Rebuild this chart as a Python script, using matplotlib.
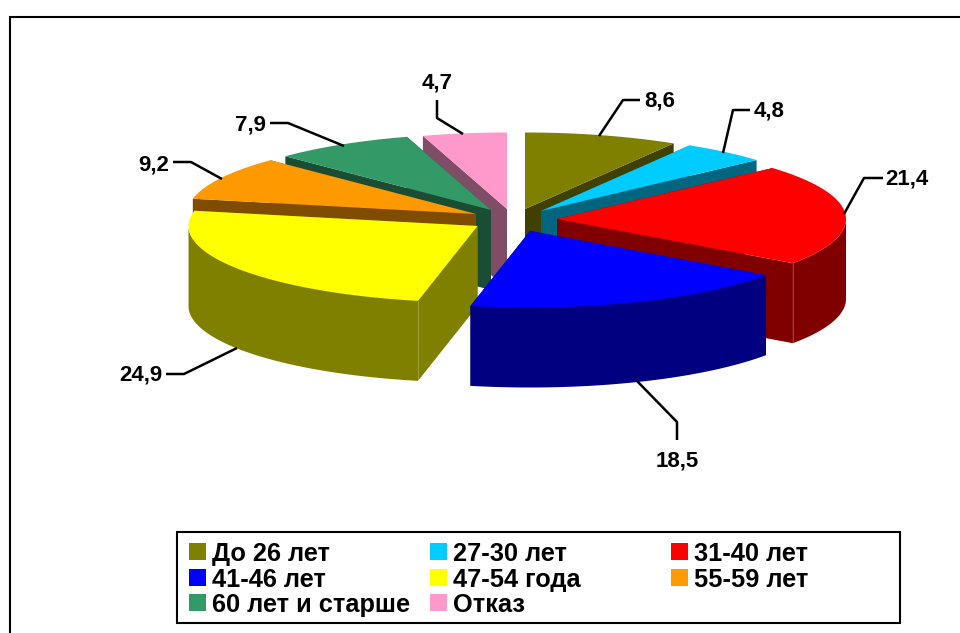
import numpy as np
import matplotlib
matplotlib.use("Agg")
import matplotlib.pyplot as plt

plt.rcParams['font.family'] = ['Liberation Sans', 'DejaVu Sans']

categories = ["До 26 лет", "27-30 лет", "31-40 лет", "41-46 лет",
              "47-54 года", "55-59 лет", "60 лет и старше", "Отказ"]
values = [8.6, 4.8, 21.4, 18.5, 24.9, 9.2, 7.9, 4.7]
value_labels = ["8,6", "4,8", "21,4", "18,5", "24,9", "9,2", "7,9", "4,7"]

top_colors = ["#808000", "#00CCFF", "#FF0000", "#0000FF",
              "#FFFF00", "#FF9900", "#339966", "#FF99CC"]
side_colors = ["#808000", "#006680", "#800000", "#000080",
               "#808000", "#804D00", "#1A4D33", "#804D66"]
inner_colors = ["#404000", "#006680", "#800000", "#000080",
                "#808000", "#804D00", "#1A4D33", "#804D66"]

# where every exploded slice has its tip, in pixels
tip_x = [525, 541, 557, 530, 477.5, 476, 491, 507]
tip_y = [209, 211, 219, 231, 226, 214, 210, 209]
rx, ry, depth = 289, 76.5, 80

# back slices first
draw_order = [0, 7, 1, 6, 2, 5, 4, 3]

# leader lines, label centre
leaders = [
    [(599, 136), (623, 100), (640, 100)],
    [(723, 153), (733, 110), (750, 110)],
    [(844, 214), (864, 178), (883, 178)],
    [(637, 381), (677, 422), (677, 440)],
    [(237, 348), (184, 374), (166, 374)],
    [(222, 179), (191, 162), (173, 162)],
    [(344, 146), (288, 123), (270, 123)],
    [(463, 134), (437, 118), (437, 100)],
]
label_pos = [(660, 98), (769, 109), (907, 177), (677, 458),
             (141, 373), (154, 162), (251, 122), (437, 80)]

fig = plt.figure(figsize=(9.6, 6.33), dpi=100)
ax = fig.add_axes([0, 0, 1, 1])
ax.set_xlim(0, 960)
ax.set_ylim(633, 0)
ax.axis('off')

# outer frame, only top and left are in the picture
ax.plot([10, 10, 960], [633, 17, 17], color='black', lw=1.5, solid_joinstyle='miter')

edges = np.cumsum([0] + values) / sum(values) * 2 * np.pi

for i in draw_order:
    cx, cy = tip_x[i], tip_y[i]
    t = np.linspace(edges[i], edges[i + 1], 80)
    ex = cx + rx * np.sin(t)
    ey = cy - ry * np.cos(t)

    # radial walls
    for px, py in [(ex[0], ey[0]), (ex[-1], ey[-1])]:
        ax.fill([cx, px, px, cx], [cy, py, py + depth, cy + depth],
                color=inner_colors[i], lw=0, zorder=2)
    # outer wall, only the part turned to the viewer
    front = np.cos(t) <= 0
    if front.any():
        ax.fill(np.r_[ex[front], ex[front][::-1]],
                np.r_[ey[front], ey[front][::-1] + depth],
                color=side_colors[i], lw=0, zorder=2)
        # faint light line where the outer wall meets a visible radial wall
        for k, sign in ((0, -1), (-1, 1)):
            if front[k] and np.sin(t[k]) * sign > 0:
                ax.plot([ex[k], ex[k]], [ey[k], ey[k] + depth], color='white',
                        lw=0.5, alpha=0.35, zorder=2)
    # top
    ax.fill(np.r_[cx, ex], np.r_[cy, ey], color=top_colors[i], lw=0, zorder=2)

for pts, lab, pos in zip(leaders, value_labels, label_pos):
    xs, ys = zip(*pts)
    ax.plot(xs, ys, color='black', lw=1.8, zorder=3, solid_capstyle='butt')
    ax.text(pos[0], pos[1], lab, fontsize=16, fontweight='bold', ha='center',
            va='center_baseline', zorder=4)

# legend box
ax.fill([177, 900, 900, 177], [532, 532, 623, 623], facecolor='white', edgecolor='black', lw=1.5, zorder=3)
col_x = [189, 430, 671]
row_y = [543, 569, 594]
for i, name in enumerate(categories):
    sx = col_x[i % 3]
    sy = row_y[i // 3]
    ax.fill([sx, sx + 17, sx + 17, sx], [sy, sy, sy + 17, sy + 17], color=top_colors[i], lw=0, zorder=4)
    ax.text(sx + 23, sy + 8.5, name, fontsize=18.3, fontweight='bold', ha='left',
            va='center_baseline', zorder=4)

fig.savefig("out.png", dpi=100)
